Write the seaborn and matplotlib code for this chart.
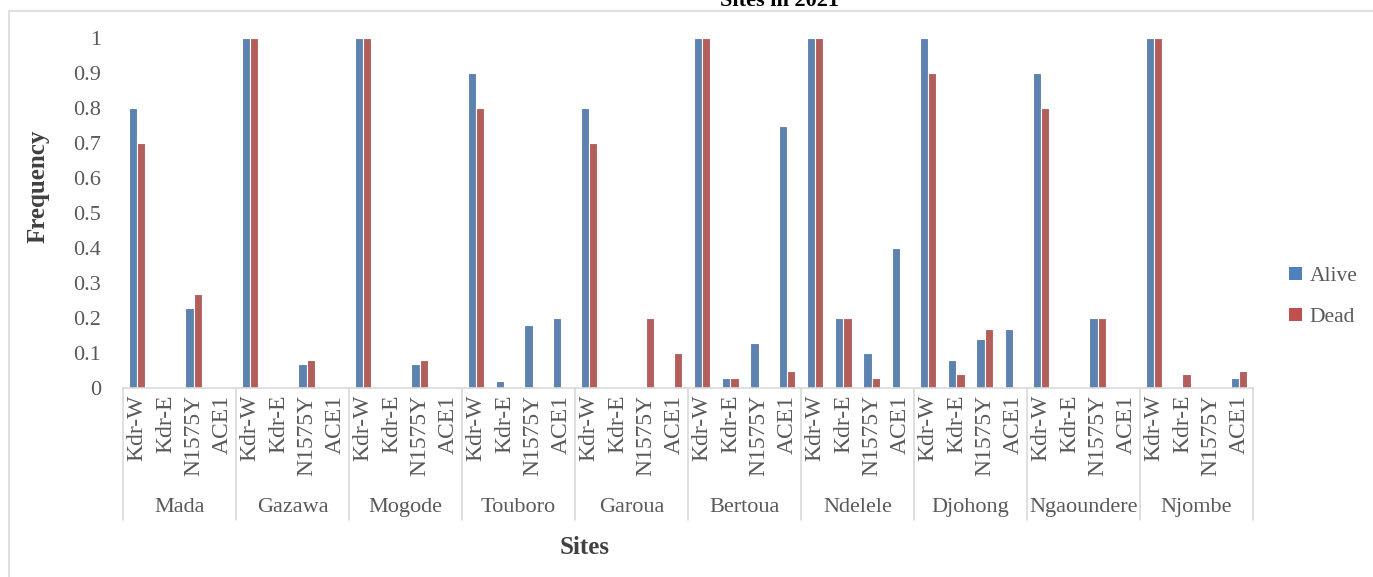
import numpy as np
import pandas as pd
import matplotlib
matplotlib.use("Agg")
import matplotlib.pyplot as plt
import matplotlib.transforms as mtransforms
from matplotlib.patches import Rectangle, Patch
import seaborn as sns

# Sites and markers
sites = ["Mada", "Gazawa", "Mogode", "Touboro", "Garoua",
         "Bertoua", "Ndelele", "Djohong", "Ngaoundere", "Njombe"]
markers = ["Kdr-W", "Kdr-E", "N1575Y", "ACE1"]

# Frequencies per site, in marker order
alive = [
    [0.80, 0.00, 0.23, 0.00],  # Mada
    [1.00, 0.00, 0.07, 0.00],  # Gazawa
    [1.00, 0.00, 0.07, 0.00],  # Mogode
    [0.90, 0.02, 0.18, 0.20],  # Touboro
    [0.80, 0.00, 0.00, 0.00],  # Garoua
    [1.00, 0.03, 0.13, 0.75],  # Bertoua
    [1.00, 0.20, 0.10, 0.40],  # Ndelele
    [1.00, 0.08, 0.14, 0.17],  # Djohong
    [0.90, 0.00, 0.20, 0.00],  # Ngaoundere
    [1.00, 0.00, 0.00, 0.03],  # Njombe
]
dead = [
    [0.70, 0.00, 0.27, 0.00],
    [1.00, 0.00, 0.08, 0.00],
    [1.00, 0.00, 0.08, 0.00],
    [0.80, 0.00, 0.00, 0.00],
    [0.70, 0.00, 0.20, 0.10],
    [1.00, 0.03, 0.00, 0.05],
    [1.00, 0.20, 0.03, 0.00],
    [0.90, 0.04, 0.17, 0.00],
    [0.80, 0.00, 0.20, 0.00],
    [1.00, 0.04, 0.00, 0.05],
]
statuses = ["Alive", "Dead"]
colors = {"Alive": "#4F81BD", "Dead": "#C0504D"}

rows = []
for i, s in enumerate(sites):
    for j, m in enumerate(markers):
        key = f"{s}|{m}"
        rows.append({"slot": key, "status": "Alive", "freq": alive[i][j]})
        rows.append({"slot": key, "status": "Dead", "freq": dead[i][j]})
df = pd.DataFrame(rows)
order = [f"{s}|{m}" for s in sites for m in markers]

sns.set_style("white")
plt.rcParams["font.family"] = ["Liberation Serif", "DejaVu Serif"]

W, H = 1373, 577
fig = plt.figure(figsize=(W / 100, H / 100), dpi=100)
ax = fig.add_axes([123 / W, 1 - 388 / H, (1253 - 123) / W, (388 - 38) / H])

sns.barplot(data=df, x="slot", y="freq", hue="status", order=order,
            hue_order=statuses, palette=colors, width=0.58,
            edgecolor="white", linewidth=0.8, errorbar=None, ax=ax,
            legend=False)

ax.set_xlim(-0.5, len(order) - 0.5)
ax.set_ylim(0, 1)
ax.set_yticks(np.arange(0, 1.01, 0.1))
ax.set_yticklabels(["0"] + [f"{v:.1f}" for v in np.arange(0.1, 0.95, 0.1)] + ["1"])
ax.tick_params(axis="y", length=0, pad=16, labelsize=16, labelcolor="#595959")
ax.set_xticks(range(len(order)))
ax.set_xticklabels([m for s in sites for m in markers], rotation=90,
                   fontsize=17, color="#595959")
ax.tick_params(axis="x", length=0, pad=5)
for side in ["top", "right", "left"]:
    ax.spines[side].set_visible(False)
ax.spines["bottom"].set_color("#D9D9D9")
ax.spines["bottom"].set_linewidth(1.2)
ax.set_xlabel("")
ax.set_ylabel("")

# Group labels and separators below the marker labels
trans = mtransforms.blended_transform_factory(ax.transData, ax.transAxes)
n = len(markers)
for i, s in enumerate(sites):
    ax.text(i * n + (n - 1) / 2, -0.354, s, transform=trans, ha="center",
            va="baseline", fontsize=16, color="#595959", clip_on=False)
for b in range(len(sites) + 1):
    ax.plot([b * n - 0.5] * 2, [0, -0.378], transform=trans, color="#D9D9D9",
            lw=1.2, clip_on=False)

fig.text(38 / W, 1 - 186 / H, "Frequency", rotation=90, ha="center",
         va="center", fontsize=18, fontweight="bold", color="#404040")
fig.text(585 / W, 1 - 548 / H, "Sites", ha="center", va="center",
         fontsize=18, fontweight="bold", color="#404040")
fig.text(780 / W, 1 - 6 / H, "Sites in 2021", ha="center", va="baseline",
         fontsize=16, fontweight="bold", color="black")

# Chart frame
fig.patches.append(Rectangle((9 / W, -0.1), 1.2, 1 - 11 / H + 0.1,
                             transform=fig.transFigure, fill=False,
                             edgecolor="#D9D9D9", lw=1.2))

handles = [Patch(facecolor=colors[k], edgecolor="none", label=k) for k in statuses]
fig.legend(handles=handles, loc="center left",
           bbox_to_anchor=(1289 / W, 1 - 297 / H), frameon=False,
           borderpad=0, borderaxespad=0,
           fontsize=15.5, labelcolor="#595959", handlelength=0.6,
           handleheight=0.6, handletextpad=0.35, labelspacing=1.0)

fig.savefig("out.png", dpi=100)
